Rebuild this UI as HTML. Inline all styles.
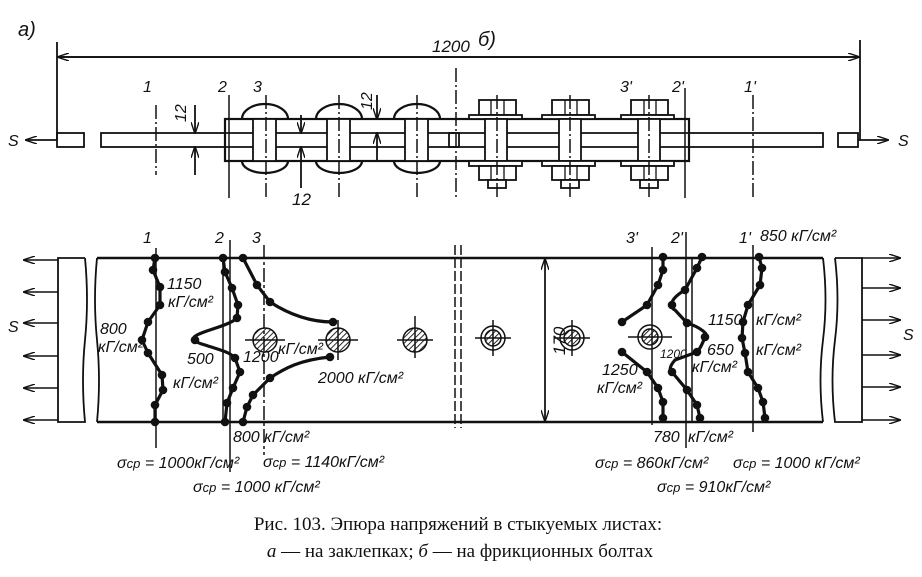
<!DOCTYPE html>
<html><head><meta charset="utf-8"><style>
html,body{margin:0;padding:0;background:#fff;}
svg{display:block;}
text{font-family:"Liberation Sans",sans-serif;font-style:italic;fill:#111;}
.c{font-family:"Liberation Serif",serif;font-style:normal;font-size:19px;}
</style></head><body>
<svg width="922" height="577" viewBox="0 0 922 577" xmlns="http://www.w3.org/2000/svg">
<defs>
<marker id="a" markerWidth="12" markerHeight="8" refX="11" refY="4" orient="auto" markerUnits="userSpaceOnUse"><path d="M0,0 L12,4 L0,8" fill="none" stroke="#111" stroke-width="1.4"/></marker>
<pattern id="h" width="4" height="4" patternUnits="userSpaceOnUse" patternTransform="rotate(45)"><line x1="0" y1="0" x2="0" y2="4" stroke="#111" stroke-width="1.8"/></pattern>
</defs>
<g stroke="#111" fill="none" stroke-width="1.8">
<line x1="57" y1="42" x2="57" y2="140"/><line x1="860" y1="40" x2="860" y2="140"/>
<line x1="58" y1="57" x2="859" y2="57" marker-end="url(#a)"/>
<line x1="859" y1="57" x2="58" y2="57" marker-end="url(#a)"/>
<line x1="57" y1="140" x2="26" y2="140" marker-end="url(#a)"/>
<line x1="858" y1="140" x2="888" y2="140" marker-end="url(#a)"/>
<rect x="57" y="133" width="27" height="14"/><rect x="838" y="133" width="20" height="14"/>
<rect x="101" y="133" width="722" height="14"/>
<rect x="225" y="119" width="464" height="42" fill="#fff" stroke-width="2.2"/>
<line x1="225" y1="133" x2="689" y2="133"/><line x1="225" y1="147" x2="689" y2="147"/>
<rect x="449" y="133" width="10" height="14"/>
<g stroke-width="2.2">
<path d="M242,119 A23,15 0 0 1 288,119"/><path d="M242,161 A23,12 0 0 0 288,161"/>
<path d="M316,119 A23,15 0 0 1 362,119"/><path d="M316,161 A23,12 0 0 0 362,161"/>
<path d="M394,119 A23,15 0 0 1 440,119"/><path d="M394,161 A23,12 0 0 0 440,161"/>
</g>
<rect x="253" y="119" width="23" height="42" fill="#fff"/>
<rect x="327" y="119" width="23" height="42" fill="#fff"/>
<rect x="405" y="119" width="23" height="42" fill="#fff"/>
<g fill="#fff">
<rect x="479" y="100" width="37" height="15"/><rect x="469" y="115" width="53" height="4"/>
<rect x="485" y="119" width="22" height="42"/>
<rect x="469" y="161" width="53" height="5"/><rect x="479" y="166" width="37" height="14"/><rect x="488" y="180" width="18" height="8"/>
<rect x="552" y="100" width="37" height="15"/><rect x="542" y="115" width="53" height="4"/>
<rect x="559" y="119" width="22" height="42"/>
<rect x="542" y="161" width="53" height="5"/><rect x="552" y="166" width="37" height="14"/><rect x="561" y="180" width="18" height="8"/>
<rect x="631" y="100" width="37" height="15"/><rect x="621" y="115" width="53" height="4"/>
<rect x="638" y="119" width="22" height="42"/>
<rect x="621" y="161" width="53" height="5"/><rect x="631" y="166" width="37" height="14"/><rect x="640" y="180" width="18" height="8"/>
</g>
<g stroke-width="1.3">
<line x1="491" y1="100" x2="491" y2="115"/><line x1="504" y1="100" x2="504" y2="115"/>
<line x1="565" y1="100" x2="565" y2="115"/><line x1="577" y1="100" x2="577" y2="115"/>
<line x1="644" y1="100" x2="644" y2="115"/><line x1="656" y1="100" x2="656" y2="115"/>
<line x1="491" y1="166" x2="491" y2="180"/><line x1="504" y1="166" x2="504" y2="180"/>
<line x1="565" y1="166" x2="565" y2="180"/><line x1="577" y1="166" x2="577" y2="180"/>
<line x1="644" y1="166" x2="644" y2="180"/><line x1="656" y1="166" x2="656" y2="180"/>
</g>
<g stroke-width="1.5">
<line x1="156" y1="105" x2="156" y2="175" stroke-dasharray="14,3,2,3"/>
<line x1="229" y1="95" x2="229" y2="198"/>
<line x1="266" y1="95" x2="266" y2="198" stroke-dasharray="14,3,2,3"/>
<line x1="339" y1="95" x2="339" y2="198" stroke-dasharray="14,3,2,3"/>
<line x1="417" y1="95" x2="417" y2="198" stroke-dasharray="14,3,2,3"/>
<line x1="456" y1="68" x2="456" y2="200" stroke-dasharray="14,3,2,3"/>
<line x1="497" y1="95" x2="497" y2="198" stroke-dasharray="14,3,2,3"/>
<line x1="570" y1="95" x2="570" y2="198" stroke-dasharray="14,3,2,3"/>
<line x1="649" y1="95" x2="649" y2="198" stroke-dasharray="14,3,2,3"/>
<line x1="685" y1="88" x2="685" y2="198"/>
<line x1="753" y1="95" x2="753" y2="198" stroke-dasharray="14,3,2,3"/>
</g>
<line x1="195" y1="105" x2="195" y2="133" marker-end="url(#a)"/><line x1="195" y1="175" x2="195" y2="147" marker-end="url(#a)"/>
<line x1="301" y1="115" x2="301" y2="133" marker-end="url(#a)"/><line x1="301" y1="188" x2="301" y2="147" marker-end="url(#a)"/>
<line x1="377" y1="95" x2="377" y2="119" marker-end="url(#a)"/><line x1="377" y1="160" x2="377" y2="133" marker-end="url(#a)"/>

<path d="M97,258 L823,258 M97,422 L823,422" stroke-width="2.4"/>
<path d="M97,258 Q93,300 97,340 Q101,380 97,422"/>
<path d="M823,258 Q828,300 823,340 Q818,380 823,422"/>
<path d="M835,258 L862,258 L862,422 L835,422 Q830,380 835,340 Q840,300 835,258"/>
<path d="M85,258 L58,258 L58,422 L85,422 Q81,380 85,340 Q89,300 85,258"/>
<g stroke-width="1.5">
<line x1="58" y1="260" x2="24" y2="260" marker-end="url(#a)"/>
<line x1="58" y1="292" x2="24" y2="292" marker-end="url(#a)"/>
<line x1="58" y1="323" x2="24" y2="323" marker-end="url(#a)"/>
<line x1="58" y1="356" x2="24" y2="356" marker-end="url(#a)"/>
<line x1="58" y1="388" x2="24" y2="388" marker-end="url(#a)"/>
<line x1="58" y1="420" x2="24" y2="420" marker-end="url(#a)"/>
<line x1="862" y1="258" x2="900" y2="258" marker-end="url(#a)"/>
<line x1="862" y1="288" x2="900" y2="288" marker-end="url(#a)"/>
<line x1="862" y1="320" x2="900" y2="320" marker-end="url(#a)"/>
<line x1="862" y1="355" x2="900" y2="355" marker-end="url(#a)"/>
<line x1="862" y1="387" x2="900" y2="387" marker-end="url(#a)"/>
<line x1="862" y1="420" x2="900" y2="420" marker-end="url(#a)"/>
<line x1="156" y1="248" x2="156" y2="448"/>
<line x1="223" y1="258" x2="223" y2="422"/>
<line x1="230" y1="240" x2="230" y2="472"/>
<line x1="264" y1="245" x2="264" y2="455" stroke-dasharray="14,3,3,3"/>
<line x1="455" y1="245" x2="455" y2="428" stroke-dasharray="10,3"/>
<line x1="461" y1="245" x2="461" y2="428" stroke-dasharray="10,3"/>
<line x1="652" y1="247" x2="652" y2="425"/>
<line x1="686" y1="232" x2="686" y2="448"/>
<line x1="692" y1="258" x2="692" y2="422"/>
<line x1="753" y1="245" x2="753" y2="432"/>
<line x1="545" y1="259" x2="545" y2="421" marker-end="url(#a)"/>
<line x1="545" y1="421" x2="545" y2="259" marker-end="url(#a)"/>
</g>
<g stroke-width="1.5">
<circle cx="265" cy="340" r="12" fill="url(#h)"/><line x1="245" y1="340" x2="285" y2="340"/>
<circle cx="338" cy="340" r="12" fill="url(#h)"/><line x1="318" y1="340" x2="358" y2="340"/><line x1="338" y1="320" x2="338" y2="360"/>
<circle cx="415" cy="340" r="12" fill="url(#h)"/><line x1="397" y1="340" x2="433" y2="340"/><line x1="415" y1="316" x2="415" y2="358"/>
<circle cx="493" cy="338" r="12"/><circle cx="493" cy="338" r="8" fill="url(#h)"/><line x1="475" y1="338" x2="511" y2="338"/><line x1="493" y1="320" x2="493" y2="356"/>
<circle cx="572" cy="338" r="12"/><circle cx="572" cy="338" r="8" fill="url(#h)"/><line x1="554" y1="338" x2="590" y2="338"/><line x1="572" y1="320" x2="572" y2="356"/>
<circle cx="650" cy="337" r="12"/><circle cx="650" cy="337" r="8" fill="url(#h)"/><line x1="628" y1="337" x2="672" y2="337"/>
</g>
<g stroke-width="3.2" stroke-linejoin="round">
<polyline points="155,258 153,270 160,287 160,305 148,322 142,340 148,353 162,375 163,390 155,405 155,422"/>
<path d="M223,258 L225,272 L232,288 L238,305 L237,318 C225,330 170,335 205,345 C220,350 230,352 235,358 L240,372 L233,388 L227,403 L225,422"/>
<path d="M243,258 L257,285 L270,302 C290,315 310,322 333,322"/>
<path d="M330,357 C300,360 285,368 270,378 L253,395 L247,407 L243,422"/>
<polyline points="663,257 663,270 658,285 647,305 622,322"/>
<polyline points="622,352 647,372 658,388 663,402 663,418"/>
<path d="M702,257 L697,268 L685,290 C668,300 670,308 675,310 L687,323 C700,327 710,335 705,337 C700,350 697,352 697,352 L675,360 C668,368 670,372 672,372 L687,390 L697,405 L700,418"/>
<polyline points="759,257 762,268 760,285 748,305 743,322 742,338 745,353 748,372 758,388 763,402 765,418"/>
</g>
<g fill="#111" stroke="none">
<circle cx="155" cy="258" r="4.3"/><circle cx="153" cy="270" r="4.3"/><circle cx="160" cy="287" r="4.3"/><circle cx="160" cy="305" r="4.3"/><circle cx="148" cy="322" r="4.3"/><circle cx="142" cy="340" r="4.3"/><circle cx="148" cy="353" r="4.3"/><circle cx="162" cy="375" r="4.3"/><circle cx="163" cy="390" r="4.3"/><circle cx="155" cy="405" r="4.3"/><circle cx="155" cy="422" r="4.3"/>
<circle cx="223" cy="258" r="4.3"/><circle cx="225" cy="272" r="4.3"/><circle cx="232" cy="288" r="4.3"/><circle cx="238" cy="305" r="4.3"/><circle cx="237" cy="318" r="4.3"/><circle cx="195" cy="340" r="4.3"/><circle cx="235" cy="358" r="4.3"/><circle cx="240" cy="372" r="4.3"/><circle cx="233" cy="388" r="4.3"/><circle cx="227" cy="403" r="4.3"/><circle cx="225" cy="422" r="4.3"/>
<circle cx="243" cy="258" r="4.3"/><circle cx="257" cy="285" r="4.3"/><circle cx="270" cy="302" r="4.3"/><circle cx="333" cy="322" r="4.3"/><circle cx="330" cy="357" r="4.3"/><circle cx="270" cy="378" r="4.3"/><circle cx="253" cy="395" r="4.3"/><circle cx="247" cy="407" r="4.3"/><circle cx="243" cy="422" r="4.3"/>
<circle cx="663" cy="257" r="4.3"/><circle cx="663" cy="270" r="4.3"/><circle cx="658" cy="285" r="4.3"/><circle cx="647" cy="305" r="4.3"/><circle cx="622" cy="322" r="4.3"/><circle cx="622" cy="352" r="4.3"/><circle cx="647" cy="372" r="4.3"/><circle cx="658" cy="388" r="4.3"/><circle cx="663" cy="402" r="4.3"/><circle cx="663" cy="418" r="4.3"/>
<circle cx="702" cy="257" r="4.3"/><circle cx="697" cy="268" r="4.3"/><circle cx="685" cy="290" r="4.3"/><circle cx="672" cy="305" r="4.3"/><circle cx="687" cy="323" r="4.3"/><circle cx="705" cy="337" r="4.3"/><circle cx="697" cy="352" r="4.3"/><circle cx="672" cy="372" r="4.3"/><circle cx="687" cy="390" r="4.3"/><circle cx="697" cy="405" r="4.3"/><circle cx="700" cy="418" r="4.3"/>
<circle cx="759" cy="257" r="4.3"/><circle cx="762" cy="268" r="4.3"/><circle cx="760" cy="285" r="4.3"/><circle cx="748" cy="305" r="4.3"/><circle cx="743" cy="322" r="4.3"/><circle cx="742" cy="338" r="4.3"/><circle cx="745" cy="353" r="4.3"/><circle cx="748" cy="372" r="4.3"/><circle cx="758" cy="388" r="4.3"/><circle cx="763" cy="402" r="4.3"/><circle cx="765" cy="418" r="4.3"/>
</g>
</g>
<g font-size="16">
<text x="18" y="36" font-size="20">а)</text>
<text x="478" y="46" font-size="20">б)</text>
<text x="432" y="52" font-size="17">1200</text>
<text x="143" y="92">1</text><text x="218" y="92">2</text><text x="253" y="92">3</text>
<text x="620" y="92">3'</text><text x="672" y="92">2'</text><text x="744" y="92">1'</text>
<text x="0" y="0" transform="translate(186,122) rotate(-90)">12</text>
<text x="0" y="0" transform="translate(372,110) rotate(-90)">12</text>
<text x="292" y="205" font-size="17" font-style="normal">12</text>
<text x="0" y="0" transform="translate(565,355) rotate(-90)" font-size="17">170</text>
<text x="8" y="146">S</text><text x="898" y="146">S</text>
<text x="8" y="332">S</text><text x="903" y="340">S</text>
<text x="143" y="243">1</text><text x="215" y="243">2</text><text x="252" y="243">3</text>
<text x="626" y="243">3'</text><text x="671" y="243">2'</text><text x="739" y="243">1'</text>
<text x="760" y="241">850 кГ/см²</text>
<text x="167" y="289">1150</text><text x="168" y="307">кГ/см²</text>
<text x="100" y="334">800</text><text x="98" y="352">кГ/см²</text>
<text x="187" y="364">500</text><text x="173" y="388">кГ/см²</text>
<text x="243" y="362">1200</text><text x="278" y="354">кГ/см²</text>
<text x="318" y="383">2000 кГ/см²</text>
<text x="233" y="442">800 кГ/см²</text>
<text x="117" y="468">σ<tspan font-size="13">ср</tspan> = 1000кГ/см²</text>
<text x="263" y="467">σ<tspan font-size="13">ср</tspan> = 1140кГ/см²</text>
<text x="193" y="492">σ<tspan font-size="13">ср</tspan> = 1000 кГ/см²</text>
<text x="708" y="325">1150</text><text x="756" y="325">кГ/см²</text>
<text x="707" y="355">650</text><text x="756" y="355">кГ/см²</text>
<text x="660" y="358" font-size="12">1200</text><text x="692" y="372">кГ/см²</text>
<text x="602" y="375">1250</text><text x="597" y="393">кГ/см²</text>
<text x="653" y="442">780</text><text x="688" y="442">кГ/см²</text>
<text x="595" y="468">σ<tspan font-size="13">ср</tspan> = 860кГ/см²</text>
<text x="733" y="468">σ<tspan font-size="13">ср</tspan> = 1000 кГ/см²</text>
<text x="657" y="492">σ<tspan font-size="13">ср</tspan> = 910кГ/см²</text>
</g>
<text class="c" x="458" y="530" text-anchor="middle" font-size="18.5">Рис. 103. Эпюра напряжений в стыкуемых листах:</text>
<text class="c" x="460" y="557" text-anchor="middle"><tspan font-style="italic">а</tspan> — на заклепках; <tspan font-style="italic">б</tspan> — на фрикционных болтах</text>
</svg>
</body></html>
